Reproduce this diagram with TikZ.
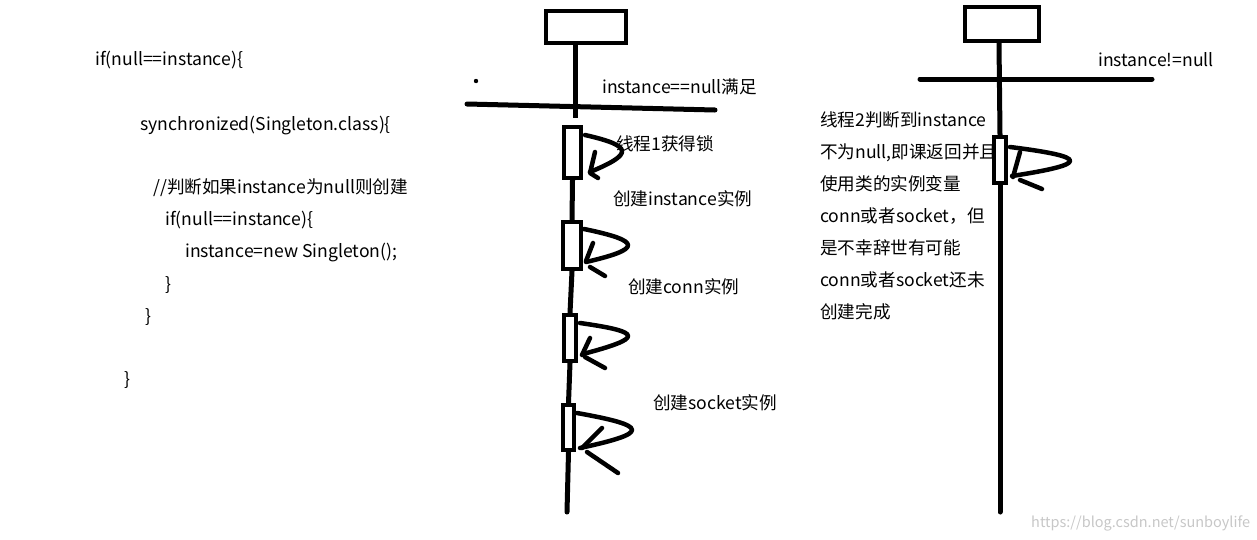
\documentclass[tikz,border=0pt]{standalone}
\usepackage{fontspec}
\setmainfont{Noto Sans CJK SC}
\usetikzlibrary{calc}
\begin{document}
\begin{tikzpicture}[x=1pt,y=-1pt,
  txt/.style={anchor=west,inner sep=0pt,font=\fontsize{17.6}{19}\selectfont,text height=14pt,text depth=3.5pt},
  lbox/.style={draw,line width=4pt,inner sep=0pt},
  life/.style={line width=5pt},
  hand/.style={line width=4.5pt,line cap=round,line join=round}]
\useasboundingbox (0,0) rectangle (1257,539);

% ---- code block ----
\node[txt] (c1) at (95,60) {if(null==instance)\{};
\node[txt] (c2) at (140,125) {synchronized(Singleton.class)\{};
\node[txt] (c3) at (153,188) {//判断如果instance为null则创建};
\node[txt] (c4) at (165,220) {if(null==instance)\{};
\node[txt] (c5) at (185,252) {instance=new Singleton();};
\node[txt] (c6) at (165,285) {\}};
\node[txt] (c7) at (145,317) {\}};
\node[txt] (c8) at (124,380) {\}};

% ---- thread 1 ----
\node[lbox,minimum width=80pt,minimum height=32pt] (b1) at (586,27) {};
\coordinate (l1a) at (575,45);
\coordinate (l1b) at (575,118);
\draw[life] (l1a) -- (l1b);
\coordinate (h1a) at (467,104);
\coordinate (h1b) at (715,110);
\draw[life,line cap=round] (h1a) -- (h1b);
\fill (476,81) circle (2.2pt);

\node[lbox,minimum width=17pt,minimum height=51pt] (a1) at (572.5,152.5) {};
\node[lbox,minimum width=18pt,minimum height=47pt] (a2) at (572,245.5) {};
\node[lbox,minimum width=12pt,minimum height=46pt] (a3) at (570,338) {};
\node[lbox,minimum width=11pt,minimum height=45pt] (a4) at (568.5,427.5) {};
\coordinate (l1end) at (567,512);
\draw[life] (a1.south) -- (a2.north);
\draw[life] (a2.south) -- (a3.north);
\draw[life] (a3.south) -- (a4.north);
\draw[life,line cap=round] (a4.south) -- (l1end);

% self loops thread 1
\draw[hand] (585,135) .. controls (633.5,146) and (633.5,154) .. (590,172);
\draw[hand] (595,152) -- (590,173) -- (598,178);
\draw[hand] (584,229) .. controls (642.3,241) and (642.3,249) .. (586,262);
\draw[hand] (593,243) -- (586,261);
\draw[hand] (590,267) -- (605,276);
\draw[hand] (580,323) .. controls (643.5,332) and (643.5,338) .. (583,354);
\draw[hand] (590,338) -- (582,355);
\draw[hand] (585,357) -- (605,368);
\draw[hand] (577,413) .. controls (649.8,426) and (649.8,433) .. (580,448);
\draw[hand] (602,428) -- (582,448);
\draw[hand] (587,452) -- (618,473);

% labels thread 1
\node[txt] (t1) at (602,88) {instance==null满足};
\node[txt] (t2) at (616,145) {线程1获得锁};
\node[txt] (t3) at (613,200) {创建instance实例};
\node[txt] (t4) at (628,288) {创建conn实例};
\node[txt] (t5) at (653,404) {创建socket实例};

% ---- thread 2 ----
\node[lbox,minimum width=74pt,minimum height=34pt] (b2) at (1002,24) {};
\node[lbox,minimum width=12pt,minimum height=46pt] (a5) at (1000,160) {};
\coordinate (l2end) at (1000,512);
\draw[life] (b2.south -| 999,0) -- (a5.north);
\draw[life,line cap=round] (a5.south) -- (l2end);
\coordinate (h2a) at (920,79);
\coordinate (h2b) at (1152,79);
\draw[life,line cap=round] (h2a) -- (h2b);
\draw[hand] (1010,147) .. controls (1089.7,157) and (1089.7,164) .. (1012,176);
\draw[hand] (1020,152) -- (1013,177);
\draw[hand] (1020,180) -- (1042,189);

\node[txt] (r0) at (1098,61) {instance!=null};
\node[txt] (r1) at (820,121) {线程2判断到instance};
\node[txt] (r2) at (820,153) {不为null,即课返回并且};
\node[txt] (r3) at (820,185) {使用类的实例变量};
\node[txt] (r4) at (820,217) {conn或者socket，但};
\node[txt] (r5) at (820,249) {是不幸辞世有可能};
\node[txt] (r6) at (820,281) {conn或者socket还未};
\node[txt] (r7) at (820,313) {创建完成};

\node[txt,text=black!22,font=\fontsize{14.5}{16}\selectfont] (wm) at (1031,522) {https://blog.csdn.net/sunboylife};
\end{tikzpicture}
\end{document}
